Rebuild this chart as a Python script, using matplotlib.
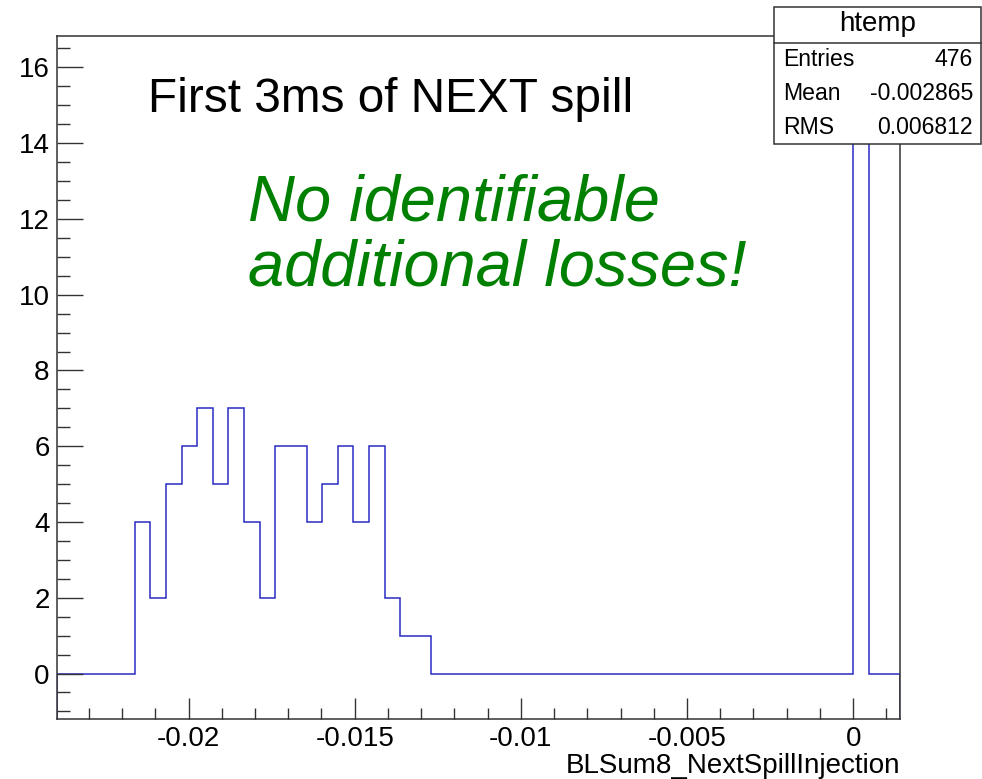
import numpy as np
import matplotlib.pyplot as plt
from matplotlib.patches import Rectangle
from matplotlib.ticker import MultipleLocator

plt.rcParams['font.family'] = ['Liberation Sans', 'DejaVu Sans']

# Datos del histograma (htemp, 54 bins)
bin_width = 0.00047
first_bin = -51
counts = [0, 0, 0, 0, 0,
          4, 2, 5, 6, 7, 5, 7, 4, 2, 6, 6, 4, 5, 6, 4, 6, 2, 1, 1,
          0, 0, 0, 0, 0, 0, 0, 0, 0, 0, 0, 0, 0, 0, 0, 0, 0, 0, 0, 0, 0, 0, 0, 0, 0, 0, 0,
          393, 0, 0]
edges = (np.arange(len(counts) + 1) + first_bin) * bin_width

stats_labels = ["Entries", "Mean", "RMS"]
stats_values = ["476", "-0.002865", "0.006812"]

ymin, ymax = -1.2, 16.83

fig = plt.figure(figsize=(9.82, 7.79), dpi=100)
ax = fig.add_axes([0.0577, 0.077, 0.8588, 0.8768])

ax.stairs(counts, edges, baseline=ymin, color="#2b2bc4", linewidth=1.1)
ax.set_xlim(edges[0], edges[-1])
ax.set_ylim(ymin, ymax)

for s in ax.spines.values():
    s.set_color("#333333")
    s.set_linewidth(1.1)

ax.xaxis.set_major_locator(MultipleLocator(0.005))
ax.xaxis.set_minor_locator(MultipleLocator(0.001))
ax.yaxis.set_major_locator(MultipleLocator(2))
ax.yaxis.set_minor_locator(MultipleLocator(0.5))
ax.xaxis.set_major_formatter(plt.FuncFormatter(lambda v, p: "0" if abs(v) < 1e-9 else f"{v:g}"))

ax.tick_params(axis="x", which="major", direction="in", length=14.9, width=1, color="#333333",
               labelsize=20, pad=5)
ax.tick_params(axis="x", which="minor", direction="in", length=7.7, width=1, color="#333333")
ax.tick_params(axis="y", which="major", direction="in", length=18.5, width=1, color="#333333",
               labelsize=20, pad=5)
ax.tick_params(axis="y", which="minor", direction="in", length=9.1, width=1, color="#333333")

ax.set_xlabel("BLSum8_NextSpillInjection", fontsize=20, loc="right", labelpad=1)

# Textos
fig.text(148 / 982, 1 - 100 / 779, "First 3ms of NEXT spill", fontsize=34.4, va="center", ha="left")
fig.text(248 / 982, 1 - 236 / 779, "No identifiable\nadditional losses!", fontsize=46.8,
         style="italic", color="#008000", va="center", ha="left", linespacing=1.12)

# Caja de estadisticas
bx0, bx1, by0, by1, bsep = 774 / 982, 981 / 982, 1 - 144 / 779, 1 - 7.3 / 779, 1 - 42.7 / 779
fig.patches.append(Rectangle((bx0, by0), bx1 - bx0, by1 - by0, transform=fig.transFigure,
                             facecolor="white", edgecolor="#333333", linewidth=1.1, zorder=5))
fig.lines.append(plt.Line2D([bx0, bx1], [bsep, bsep], transform=fig.transFigure,
                            color="#333333", linewidth=1.1, zorder=6))
fig.text((bx0 + bx1) / 2, 1 - 24 / 779, "htemp", fontsize=20, ha="center", va="center", zorder=7)
for i, (lab, val) in enumerate(zip(stats_labels, stats_values)):
    yy = 1 - (59 + 34.5 * i) / 779
    fig.text(783 / 982, yy, lab, fontsize=16.6, ha="left", va="center", zorder=7)
    fig.text(973 / 982, yy, val, fontsize=16.6, ha="right", va="center", zorder=7)

fig.savefig("out.png", dpi=100)
